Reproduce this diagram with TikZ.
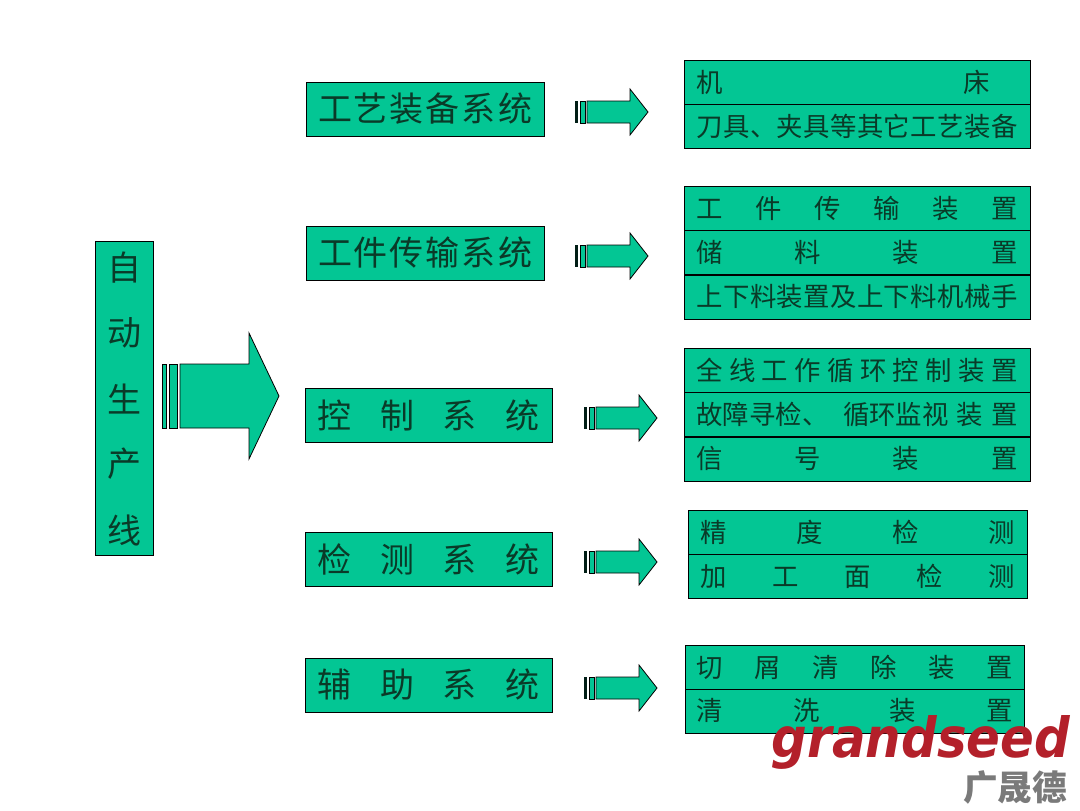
\documentclass[tikz,border=0pt]{standalone}
\usepackage{fontspec}
\setmainfont{Noto Sans CJK SC}
\newfontfamily\logofont{DejaVu Sans}
\newcommand{\f}{\hfill}
\definecolor{boxgreen}{HTML}{03C694}
\definecolor{inkgreen}{HTML}{0A3A28}
\definecolor{logored}{HTML}{B3202A}
\definecolor{logogrey}{HTML}{7A7A7A}
\tikzset{
  px/.style={x=0.75pt,y=-0.75pt},
  greenbox/.style={draw=black,line width=0.7pt,fill=boxgreen,text=inkgreen,inner sep=0pt,anchor=center},
  sysbox/.style={greenbox,minimum height=40.5pt,font=\fontsize{25.5}{28}\selectfont},
  rowbox/.style={greenbox,minimum height=33pt,font=\fontsize{19.8}{22}\selectfont},
  wideA/.style={sysbox,minimum width=178.5pt},
  wideB/.style={sysbox,minimum width=185.25pt},
  rowA/.style={rowbox,minimum width=259.5pt},
  rowB/.style={rowbox,minimum width=254.25pt},
  rowC/.style={rowbox,minimum width=254.25pt},
  blockshape/.style={draw=black,line width=0.6pt,fill=boxgreen,line join=miter},
  charnode/.style={text=inkgreen,font=\fontsize{25.5}{28}\selectfont,inner sep=0pt},
}
% small block arrow: #1 = x of the first stripe, #2 = y of centre line
\newcommand{\smallarrow}[2]{%
  \fill[black!85!boxgreen] (#1,#2-11) rectangle ++(3,22);
  \draw[blockshape] (#1+5,#2-11) rectangle ++(5.5,22);
  \draw[blockshape] (#1+12,#2-11) -- (#1+55,#2-11) -- (#1+55,#2-23) -- (#1+73,#2) -- (#1+55,#2+23) -- (#1+55,#2+11) -- (#1+12,#2+11) -- cycle;
}
\newcommand{\rowtext}[2]{\makebox[0.75\dimexpr #1pt\relax][s]{#2}}
\begin{document}
\begin{tikzpicture}[px]
\useasboundingbox (0,0) rectangle (1080,810);
% left column
\node[greenbox,minimum width=43.5pt,minimum height=235.5pt] (auto) at (124,398) {};
\node[charnode] (c1) at (124,268) {自};
\node[charnode] (c2) at (124,333) {动};
\node[charnode] (c3) at (124,399) {生};
\node[charnode] (c4) at (124,464) {产};
\node[charnode] (c5) at (124,530) {线};
% big arrow
\draw[blockshape] (162,364) rectangle (166,428);
\draw[blockshape] (169,364) rectangle (177,428);
\draw[blockshape] (180,364) -- (249,364) -- (249,333) -- (279,396) -- (249,459) -- (249,428) -- (180,428) -- cycle;
% system boxes
\node[wideA] (s1) at (425,109) {\rowtext{214}{工\f 艺\f 装\f 备\f 系\f 统}};
\node[wideA] (s2) at (425,253) {\rowtext{214}{工\f 件\f 传\f 输\f 系\f 统}};
\node[wideB] (s3) at (428.5,415) {\rowtext{222}{控\f 制\f 系\f 统}};
\node[wideB] (s4) at (428.5,559) {\rowtext{222}{检\f 测\f 系\f 统}};
\node[wideB] (s5) at (428.5,685) {\rowtext{222}{辅\f 助\f 系\f 统}};
% small arrows
\smallarrow{575}{112}
\smallarrow{575}{256}
\smallarrow{584}{418}
\smallarrow{584}{562}
\smallarrow{584}{688}
% group 1
\node[rowA] (r11) at (857,82) {\rowtext{321}{机\f 床\hspace{21pt}}};
\node[rowA] (r12) at (857,126) {\rowtext{321}{刀\f 具\f 、\f 夹\f 具\f 等\f 其\f 它\f 工\f 艺\f 装\f 备}};
% group 2
\node[rowA] (r21) at (857,208) {\rowtext{321}{工\f 件\f 传\f 输\f 装\f 置}};
\node[rowA] (r22) at (857,252.5) {\rowtext{321}{储\f 料\f 装\f 置}};
\node[rowA] (r23) at (857,297) {\rowtext{321}{上\f 下\f 料\f 装\f 置\f 及\f 上\f 下\f 料\f 机\f 械\f 手}};
% group 3
\node[rowA] (r31) at (857,370) {\rowtext{321}{全\f 线\f 工\f 作\f 循\f 环\f 控\f 制\f 装\f 置}};
\node[rowA] (r32) at (857,414.5) {\rowtext{321}{故障寻检、\hspace{11pt}循环监视\f 装\f 置}};
\node[rowA] (r33) at (857,459) {\rowtext{321}{信\f 号\f 装\f 置}};
% group 4
\node[rowB] (r41) at (857.5,532) {\rowtext{314}{精\f 度\f 检\f 测}};
\node[rowB] (r42) at (857.5,576) {\rowtext{314}{加\f 工\f 面\f 检\f 测}};
% group 5
\node[rowC] (r51) at (854.5,667) {\rowtext{316}{切\f 屑\f 清\f 除\f 装\f 置}};
\node[rowC] (r52) at (854.5,711) {\rowtext{316}{清\f 洗\f 装\f 置}};
% logo
\node[inner sep=0pt,text=logored] (logo) at (921,742.5) {\resizebox{223.5pt}{31.5pt}{\logofont\bfseries\itshape grandseed}};
\node[inner sep=0pt,text=logogrey,font=\fontsize{26}{28}\selectfont\bfseries] (logocn) at (1014,787) {\rowtext{102}{广\f 晟\f 德}};
\end{tikzpicture}
\end{document}
